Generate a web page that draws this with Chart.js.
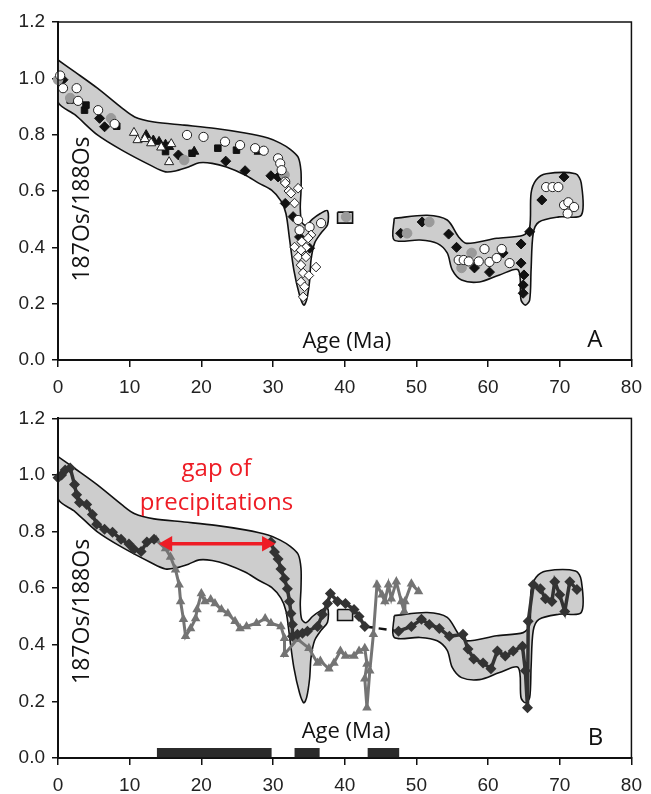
<!DOCTYPE html>
<html>
<head>
<meta charset="utf-8">
<script src="https://cdn.jsdelivr.net/npm/chart.js@4.4.0/dist/chart.umd.min.js"></script>
<style>
  body { margin: 0; background: #fff; }
  canvas { position: absolute; left: 0; }
  #chartA { top: 0; }
  #chartB { top: 400px; }
</style>
</head>
<body>
<canvas id="chartA" width="651" height="400"></canvas>
<canvas id="chartB" width="651" height="394"></canvas>
<script>
/************* data (age Ma, 187Os/188Os) ********* */
const xTicks = [0, 10, 20, 30, 40, 50, 60, 70, 80];
const yTicks = [0.0, 0.2, 0.4, 0.6, 0.8, 1.0, 1.2];

// envelope outlines
const bandMain = [[0,1.065],[2.4,1.022],[5.5,0.965],[8.9,0.895],[10.7,0.863],[13.4,0.845],[17.6,0.834],[22,0.822],
  [26.1,0.806],[29.3,0.788],[31,0.77],[32.4,0.748],[33.5,0.72],[33.9,0.67],[33.9,0.6],[33.8,0.54],[34,0.49],[34.6,0.478],
  [35.5,0.5],[36.6,0.52],[37.6,0.53],[37.6,0.48],[36.7,0.451],[35.8,0.415],[35.3,0.355],[35.1,0.28],[34.7,0.215],[34.3,0.195],
  [33.7,0.23],[32.9,0.32],[32.3,0.43],[31.8,0.52],[31.1,0.565],[29.8,0.603],[28,0.628],[26.1,0.657],[23.5,0.685],[21.5,0.698],
  [19.7,0.7],[18.2,0.685],[16.5,0.672],[15,0.668],[13,0.69],[8.9,0.745],[5.5,0.799],[2.4,0.87],[0,0.916],[0,1.065]];
const bandSquare = [[39,0.525],[41.1,0.525],[41.1,0.486],[39,0.486],[39,0.525]];
const bandRight = [[46.9,0.503],[51.5,0.514],[54.3,0.497],[55.9,0.437],[57,0.414],[61.2,0.432],[64.9,0.443],[65.8,0.47],
  [66,0.592],[66.7,0.639],[68.1,0.661],[72.2,0.661],[73,0.628],[73,0.514],[69.9,0.508],[67.1,0.49],[66.3,0.45],[66,0.32],
  [65.8,0.213],[65.2,0.195],[64.6,0.213],[64.2,0.32],[61.6,0.302],[58.8,0.277],[56.3,0.284],[55,0.32],[54.3,0.38],
  [52.9,0.414],[50.5,0.426],[46.9,0.426],[46.9,0.503]];

// panel A samples
const blackDiamonds = [[0.7,0.995],[5.8,0.858],[6.5,0.828],[16.8,0.728],[23.4,0.706],[26.1,0.672],[29.7,0.654],[30.7,0.65],
  [31.7,0.556],[32.8,0.509],[33.7,0.437],[35.1,0.397],[47.8,0.45],[50.8,0.49],[54.5,0.447],[55.6,0.40],[58.1,0.327],
  [60.2,0.312],[62.1,0.38],[64.6,0.412],[64.6,0.344],[65,0.302],[64.9,0.266],[64.9,0.237],[65.8,0.455],[67.5,0.568],[70.6,0.65]];
const whiteCircles = [[0.3,1.01],[0.7,0.965],[2.6,0.965],[2.8,0.92],[5.6,0.887],[7.9,0.838],[18,0.799],[20.3,0.792],
  [23.3,0.775],[25.4,0.763],[27.5,0.752],[28.7,0.743],[30.7,0.716],[31,0.698],[31.2,0.674],[31.7,0.633],[33.5,0.497],
  [33.7,0.461],[35.1,0.472],[36.7,0.486],[55.9,0.355],[56.6,0.355],[57.3,0.35],[58.7,0.35],[59.5,0.394],[60.2,0.348],
  [61.2,0.362],[61.9,0.394],[63,0.344],[68.1,0.614],[69,0.614],[69.8,0.614],[70.6,0.55],[71.2,0.56],[72,0.543],[71.1,0.52]];
const grayCircles = [[0,0.995],[1.7,0.93],[7.4,0.858],[17.6,0.71],[31.6,0.657],[40.2,0.508],[48.7,0.45],[51.8,0.49],
  [57.7,0.38],[56.3,0.327]];
const blackTriangles = [[12.3,0.799],[13.3,0.78],[14.1,0.775],[15,0.765],[15.5,0.757],[19,0.74],[28,0.74]];
const whiteTriangles = [[10.6,0.807],[11.1,0.781],[12.1,0.785],[13,0.77],[14.4,0.755],[15.8,0.767],[15.5,0.703]];
const blackSquares = [[1.7,0.923],[3.7,0.887],[3.9,0.905],[8.2,0.83],[15,0.74],[18.7,0.734],[22.3,0.752],[24.9,0.745]];
const whiteDiamonds = [[31.7,0.628],[32.2,0.6],[32.5,0.592],[33.5,0.61],[33,0.557],[35.3,0.444],[34.9,0.433],[34,0.42],
  [34.6,0.4],[33,0.401],[33.9,0.39],[33.5,0.366],[34.6,0.366],[36,0.33],[33.9,0.337],[34.2,0.309],[35,0.3],[33.9,0.277],
  [34.4,0.26],[34.2,0.224]];

// panel B records
const darkSeries1 = [[0,0.99],[0.5,1.0],[1,1.018],[1.7,1.025],[2.3,0.966],[2.6,0.93],[3,0.903],[4,0.896],[4.8,0.86],
  [5.4,0.826],[6.5,0.808],[7.6,0.798],[8.8,0.773],[9.9,0.756],[10.6,0.738],[11.6,0.73],[12.4,0.763],[13.4,0.773]];
const darkSeries2 = [[29.7,0.763],[30.2,0.728],[30.7,0.703],[31.1,0.668],[31.6,0.633],[32,0.598],[32.3,0.553],[32.5,0.511],
  [32.7,0.472],[32.7,0.43],[33.4,0.437],[34.1,0.441],[34.8,0.448],[36.2,0.465],[36.9,0.507],[37.6,0.546],[38,0.581],
  [39,0.553],[40.1,0.546],[41.3,0.525],[42,0.5],[42.8,0.465]];
const darkDashed = [[42.8,0.465],[47.5,0.448]];
const darkSeries3 = [[47.5,0.448],[49.3,0.465],[50.7,0.49],[51.8,0.472],[53.2,0.458],[54.6,0.43],[56.5,0.437],[57.2,0.385],
  [58,0.35],[59.3,0.336],[60.4,0.315],[61.3,0.378],[62.4,0.36],[63.5,0.378],[64.8,0.395],[65.2,0.308],[65.5,0.178],
  [65.6,0.483],[66.3,0.612],[67.3,0.598],[68,0.563],[68.9,0.553],[69.3,0.623],[70,0.577],[70.7,0.518],[71.4,0.623],[72.4,0.595]];
const graySeries = [[13.7,0.77],[15,0.74],[15.7,0.71],[16.4,0.665],[16.9,0.612],[17.1,0.553],[17.5,0.49],[17.8,0.43],
  [18.5,0.458],[19.2,0.493],[19.4,0.525],[20,0.581],[20.5,0.553],[21.3,0.56],[21.9,0.546],[22.8,0.525],[23.7,0.511],
  [24.7,0.483],[25.4,0.458],[26.3,0.465],[27.7,0.476],[28.9,0.493],[29.7,0.476],[31.1,0.465],[31.6,0.423],[31.6,0.367],
  [33.4,0.42],[35,0.388],[36.2,0.336],[36.6,0.343],[37.8,0.315],[38.5,0.336],[39.4,0.378],[40.1,0.36],[41.3,0.36],
  [42,0.378],[42.8,0.388],[43.1,0.332],[42.8,0.28],[43.1,0.178],[43.5,0.308],[44,0.437],[44.5,0.612],[45.2,0.577],
  [45.6,0.553],[46.1,0.612],[46.5,0.563],[47.2,0.623],[47.9,0.553],[48.3,0.518],[48.4,0.553],[49.3,0.616],[50.3,0.588]];
const gapArrow = [[15.3,0.757],[29.1,0.757]];
const hiatusBars = [[13.8,0.0175],[29.8,0.0175],[null,null],[33,0.0175],[36.5,0.0175],[null,null],[43.2,0.0175],[47.6,0.0175]];

const pts = a => a.map(p => ({x: p[0], y: p[1]}));

/************* shared pieces ********* */
Chart.defaults.font.family = 'Liberation Sans';
Chart.defaults.color = '#222';

function band(data, tension) {
    return {
        data: pts(data), showLine: true, fill: 'shape', tension: tension,
        backgroundColor: '#cdcdcd', borderColor: '#111', borderWidth: 1.6,
        pointRadius: 0, order: 10
    };
}
function marks(data, style, radius, fillCol, lineCol) {
    return {
        data: pts(data), showLine: false, pointStyle: style, pointRadius: radius,
        backgroundColor: fillCol, borderColor: lineCol, borderWidth: 1, clip: false, order: 1
    };
}
function record(data, style, col, width, radius) {
    return {
        data: pts(data), showLine: true, borderColor: col, borderWidth: width,
        pointStyle: style, pointRadius: radius, backgroundColor: col, pointBorderWidth: 0, clip: false, order: 3
    };
}

const frameText = {
    id: 'frameText',
    afterDatasetsDraw(chart, args, opts) {
        const {ctx, chartArea: a, scales: {x, y}} = chart;
        ctx.save();
        ctx.strokeStyle = '#111';
        ctx.lineWidth = 1.5;
        ctx.strokeRect(a.left, a.top, a.right - a.left, a.bottom - a.top);
        opts.labels.forEach(l => {
            ctx.save();
            ctx.font = l.size + 'px "Open Sans"';
            ctx.fillStyle = l.color || '#111';
            ctx.textAlign = 'center';
            ctx.textBaseline = l.rotate ? 'middle' : 'alphabetic';
            ctx.translate(x.getPixelForValue(l.x), y.getPixelForValue(l.y));
            if (l.rotate) ctx.rotate(-Math.PI / 2);
            ctx.fillText(l.text, 0, 0);
            ctx.restore();
        });
        ctx.restore();
    }
};

function scales(xHeight) {
    return {
        x: {
            type: 'linear', min: 0, max: 80,
            afterBuildTicks: s => { s.ticks = xTicks.map(v => ({value: v})); },
            ticks: {font: {size: 19}, padding: 9, maxRotation: 0, color: '#222'},
            grid: {drawOnChartArea: false, color: '#111', tickLength: 7, lineWidth: 1.5},
            border: {color: '#111', width: 2},
            afterFit: s => { s.height = xHeight; }
        },
        y: {
            type: 'linear', min: 0, max: 1.2,
            afterBuildTicks: s => { s.ticks = yTicks.map(v => ({value: v})); },
            ticks: {font: {size: 19}, padding: 7, color: '#222', callback: v => v.toFixed(1)},
            grid: {drawOnChartArea: false, color: '#111', tickLength: 6, lineWidth: 1.5},
            border: {color: '#111', width: 2},
            afterFit: s => { s.width = 58; }
        }
    };
}

/************* chart A ********* */
new Chart("chartA", {
    type: "scatter",
    data: {
        datasets: [
            band(bandMain, 0.3),
            band(bandSquare, 0),
            band(bandRight, 0.3),
            marks(whiteDiamonds, 'rectRot', 4.8, '#fff', '#222'),
            marks(whiteCircles, 'circle', 4.6, '#fff', '#222'),
            marks(grayCircles, 'circle', 4.8, '#9a9a9a', '#9a9a9a'),
            marks(whiteTriangles, 'triangle', 5.3, '#fff', '#222'),
            marks(blackTriangles, 'triangle', 5.3, '#111', '#111'),
            marks(blackSquares, 'rect', 4.6, '#111', '#111'),
            marks(blackDiamonds, 'rectRot', 5, '#111', '#111')
        ]
    },
    options: {
        responsive: false, animation: false,
        layout: {padding: {top: 22, right: 15, left: 0, bottom: 0}},
        scales: scales(40),
        plugins: {
            legend: {display: false}, tooltip: {enabled: false},
            frameText: {labels: [
                {text: 'Age (Ma)', x: 40.3, y: 0.043, size: 22},
                {text: 'A', x: 74.9, y: 0.046, size: 24},
                {text: '187Os/188Os', x: 3.46, y: 0.536, size: 23, rotate: true}
            ]}
        }
    },
    plugins: [frameText]
});

/************* chart B ********* */
new Chart("chartB", {
    type: "scatter",
    data: {
        datasets: [
            band(bandMain, 0.3),
            band(bandSquare, 0),
            band(bandRight, 0.3),
            Object.assign(record(graySeries, 'triangle', '#747474', 3, 5.5), {order: 4}),
            record(darkSeries1, 'rectRot', '#333', 3.5, 5.5),
            record(darkSeries2, 'rectRot', '#333', 3.5, 5.5),
            record(darkSeries3, 'rectRot', '#333', 3.5, 5.5),
            {data: pts(darkDashed), showLine: true, borderColor: '#111', borderWidth: 2.5, borderDash: [8, 6],
             pointRadius: 0, order: 3},
            {data: pts(gapArrow), showLine: true, borderColor: '#ee1c25', borderWidth: 3.5,
             pointStyle: 'triangle', pointRotation: [-90, 90], pointRadius: 9, backgroundColor: '#ee1c25',
             pointBorderWidth: 0, clip: false, order: 0},
            {data: pts(hiatusBars), showLine: true, spanGaps: false, borderColor: '#2b2b2b', borderWidth: 10,
             borderCapStyle: 'butt', pointRadius: 0, order: 0}
        ]
    },
    options: {
        responsive: false, animation: false,
        layout: {padding: {top: 15, right: 14, left: 0, bottom: 0}},
        scales: scales(36),
        plugins: {
            legend: {display: false}, tooltip: {enabled: false},
            frameText: {labels: [
                {text: 'Age (Ma)', x: 40.2, y: 0.07, size: 22},
                {text: 'B', x: 75, y: 0.045, size: 24},
                {text: '187Os/188Os', x: 3.45, y: 0.518, size: 23, rotate: true},
                {text: 'gap of', x: 22.1, y: 0.997, size: 24, color: '#ee1c25'},
                {text: 'precipitations', x: 22.1, y: 0.878, size: 24, color: '#ee1c25'}
            ]}
        }
    },
    plugins: [frameText]
});
</script>
</body>
</html>
